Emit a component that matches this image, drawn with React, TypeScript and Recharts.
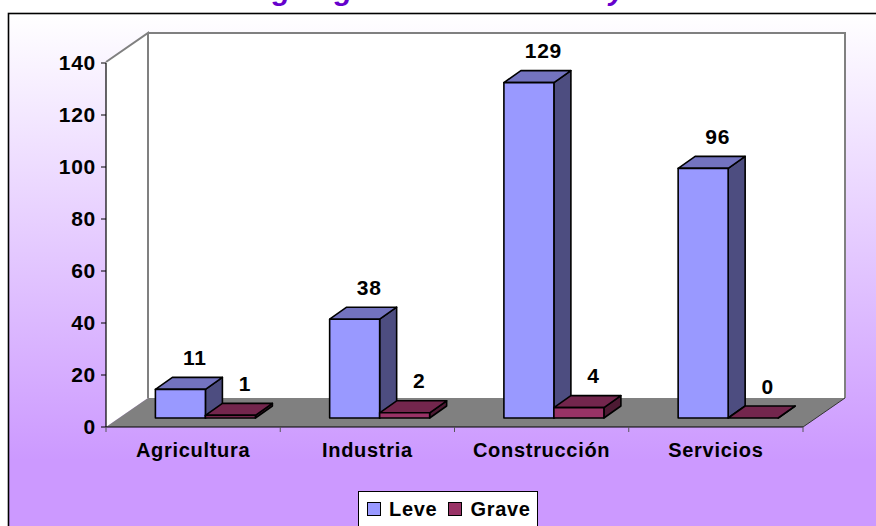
import { BarChart, Bar, XAxis, YAxis, Legend, LabelList } from 'recharts'

const sectors = ['Agricultura', 'Industria', 'Construcción', 'Servicios']
const leve = [11, 38, 129, 96]
const grave = [1, 2, 4, 0]
const yTicks = [0, 20, 40, 60, 80, 100, 120, 140]

const data = sectors.map((name, i) => ({ name, leve: leve[i], grave: grave[i] }))

const FONT = '"Liberation Sans", Arial, sans-serif'
const WIDTH = 876
const HEIGHT = 526

// front plane of the box
const LEFT = 106
const RIGHT = 803
const TOP = 62
const BOTTOM = 427
// how far the back wall sits behind the front plane
const WALL_DX = 42
const WALL_DY = 29
// bars stand a bit behind the front plane, and have their own depth
const BAR_DX = 12.4
const BAR_DY = 9
const DEPTH_X = 17
const DEPTH_Y = 12

const labelStyle = { fontFamily: FONT, fontSize: 20, fontWeight: 700, fill: '#000', letterSpacing: 0.7 }
const numberStyle = { ...labelStyle, fontSize: 21 }

function makeBar(front: string, top: string, side: string) {
  return function Bar3D(props: any) {
    const x = props.x + BAR_DX
    const y = props.y - BAR_DY
    const w = props.width
    const h = props.height
    const line = { stroke: '#000', strokeWidth: 1.6, strokeLinejoin: 'round' as const }
    return (
      <g>
        <polygon
          points={`${x + w},${y} ${x + w + DEPTH_X},${y - DEPTH_Y} ${x + w + DEPTH_X},${y + h - DEPTH_Y} ${x + w},${y + h}`}
          fill={side}
          {...line}
        />
        <polygon
          points={`${x},${y} ${x + DEPTH_X},${y - DEPTH_Y} ${x + w + DEPTH_X},${y - DEPTH_Y} ${x + w},${y}`}
          fill={top}
          {...line}
        />
        <rect x={x} y={y} width={w} height={h} fill={front} {...line} />
      </g>
    )
  }
}

const LeveBar = makeBar('#9999FF', '#7373BF', '#4D4D80')
const GraveBar = makeBar('#993366', '#73264D', '#4D1A33')

function barLabel(props: any) {
  const { x, y, width, value } = props
  return (
    <text
      x={x + width / 2 + 14.5 + BAR_DX}
      y={y - BAR_DY - 32}
      dominantBaseline="central"
      textAnchor="middle"
      style={numberStyle}
    >
      {value}
    </text>
  )
}

// the reference has its ticks between the categories, not under them
function SectorTick({ x, y, payload, index }: any) {
  const band = (RIGHT - LEFT) / sectors.length
  const edges = index === sectors.length - 1 ? [x - band / 2, x + band / 2] : [x - band / 2]
  return (
    <g>
      {edges.map((ex) => (
        <line key={ex} x1={ex} x2={ex} y1={BOTTOM} y2={BOTTOM + 5} stroke="#555" strokeWidth={1} />
      ))}
      <text x={x} y={y} dy="0.71em" textAnchor="middle" style={labelStyle}>
        {payload.value}
      </text>
    </g>
  )
}

function LegendBox({ payload }: any) {
  return (
    <div
      style={{
        boxSizing: 'border-box',
        width: 180,
        height: 36,
        background: '#fff',
        border: '1.5px solid #000',
        borderBottom: 'none',
        display: 'flex',
        alignItems: 'center',
        paddingLeft: 8,
        fontFamily: FONT,
        fontSize: 20,
        fontWeight: 700,
        letterSpacing: 0.7,
        color: '#000',
      }}
    >
      {(payload || []).map((item: any) => (
        <span key={item.value} style={{ display: 'flex', alignItems: 'center', marginRight: 11 }}>
          <span
            style={{
              boxSizing: 'border-box',
              width: 14,
              height: 14,
              background: item.color,
              border: '1.5px solid #000',
              marginRight: 8,
            }}
          />
          {item.value}
        </span>
      ))}
    </div>
  )
}

export default function App() {
  return (
    <div style={{ position: 'absolute', left: 0, top: 0, width: WIDTH, height: HEIGHT, overflow: 'hidden', background: '#fff' }}>
      <BarChart
        width={WIDTH}
        height={HEIGHT}
        data={data}
        barSize={50}
        barGap={0}
        barCategoryGap={37}
        margin={{ top: TOP + 1, right: WIDTH - RIGHT, bottom: 0, left: 0 }}
      >
        <defs>
          <linearGradient id="panel" x1="0" y1="0" x2="0" y2="1">
            <stop offset="0" stopColor="#FFFFFF" />
            <stop offset="0.85" stopColor="#CC99FF" />
            <stop offset="1" stopColor="#CC99FF" />
          </linearGradient>
        </defs>
        <text
          x={-3}
          y={0.3}
          style={{ fontFamily: FONT, fontSize: 29.4, fontWeight: 700, fontStyle: 'italic', fill: '#6600CC' }}
        >
          Nº de accidentes según gravedad de lesión y sector de actividad
        </text>
        <rect x={8.5} y={13.5} width={WIDTH} height={HEIGHT} fill="url(#panel)" stroke="#000" strokeWidth={1.6} />
        <polygon
          points={`${LEFT},${TOP} ${LEFT + WALL_DX},${TOP - WALL_DY} ${RIGHT + WALL_DX},${TOP - WALL_DY} ${RIGHT + WALL_DX},${BOTTOM - WALL_DY} ${LEFT + WALL_DX},${BOTTOM - WALL_DY} ${LEFT},${BOTTOM}`}
          fill="#fff"
        />
        <polyline
          points={`${LEFT},${TOP} ${LEFT + WALL_DX},${TOP - WALL_DY} ${LEFT + WALL_DX},${BOTTOM - WALL_DY}`}
          fill="none"
          stroke="#808080"
          strokeWidth={2}
        />
        <polyline
          points={`${LEFT + WALL_DX},${TOP - WALL_DY} ${RIGHT + WALL_DX},${TOP - WALL_DY} ${RIGHT + WALL_DX},${BOTTOM - WALL_DY}`}
          fill="none"
          stroke="#808080"
          strokeWidth={2}
        />
        <polygon
          points={`${LEFT},${BOTTOM} ${LEFT + WALL_DX},${BOTTOM - WALL_DY} ${RIGHT + WALL_DX},${BOTTOM - WALL_DY} ${RIGHT},${BOTTOM}`}
          fill="#808080"
        />
        <line x1={RIGHT} y1={BOTTOM} x2={RIGHT + WALL_DX} y2={BOTTOM - WALL_DY} stroke="#333" strokeWidth={1} />
        <XAxis
          dataKey="name"
          height={HEIGHT - BOTTOM}
          tick={SectorTick}
          tickLine={false}
          axisLine={{ stroke: '#000', strokeWidth: 1.2 }}
          tickMargin={10}
          interval={0}
        />
        <YAxis
          width={LEFT}
          domain={[0, 140]}
          ticks={yTicks}
          tick={numberStyle}
          tickSize={5}
          tickMargin={5}
          axisLine={{ stroke: '#000', strokeWidth: 1.2 }}
          tickLine={{ stroke: '#000', strokeWidth: 1 }}
        />
        <Legend
          layout="horizontal"
          verticalAlign="middle"
          align="center"
          itemSorter={null}
          content={<LegendBox />}
          wrapperStyle={{ left: 358, top: 490.5, width: 180, height: 36 }}
        />
        <Bar dataKey="leve" name="Leve" fill="#9999FF" shape={LeveBar} isAnimationActive={false}>
          <LabelList dataKey="leve" content={barLabel} />
        </Bar>
        <Bar dataKey="grave" name="Grave" fill="#993366" shape={GraveBar} isAnimationActive={false}>
          <LabelList dataKey="grave" content={barLabel} />
        </Bar>
      </BarChart>
    </div>
  )
}
